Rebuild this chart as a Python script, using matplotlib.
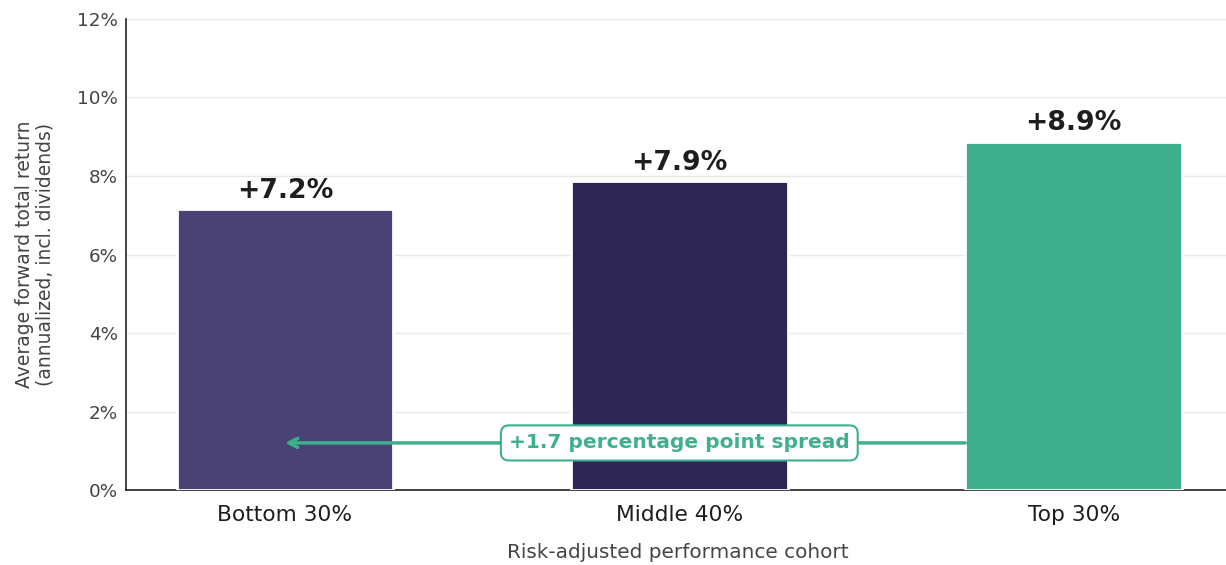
import numpy as np
import matplotlib
matplotlib.use("Agg")
import matplotlib.pyplot as plt
from matplotlib.ticker import FuncFormatter

plt.rcParams["font.family"] = ["DejaVu Sans"]

# cohorts and their average forward total return (%)
cohorts = ["Bottom 30%", "Middle 40%", "Top 30%"]
returns = [7.15, 7.87, 8.87]
bar_colors = ["#4a4175", "#2d2554", "#3eb08e"]
spread_label = "+1.7 percentage point spread"
spread_y = 1.2

fig = plt.figure(figsize=(12.26, 5.65), dpi=100)
ax = fig.add_axes([0.1028, 0.1327, 0.9, 0.8337])

x = np.arange(len(cohorts))
bars = ax.bar(x, returns, width=0.55, color=bar_colors, edgecolor="white",
              linewidth=2, zorder=3)

# value labels above bars
for xi, v in zip(x, returns):
    ax.text(xi, v + 0.14, f"+{v:.1f}%", ha="center", va="bottom",
            fontsize=19.2, fontweight="bold", color="#1e1e1e", zorder=5)

# spread arrow from top cohort back to bottom cohort
ax.annotate("", xy=(0.0, spread_y), xytext=(1.725, spread_y),
            arrowprops=dict(arrowstyle="->", color="#3eb08e", lw=2.5,
                            mutation_scale=16, shrinkA=0, shrinkB=0),
            zorder=4)
ax.text(1.0, spread_y, spread_label, ha="center", va="center",
        fontsize=14.5, fontweight="bold", color="#3eb08e", zorder=6,
        bbox=dict(boxstyle="round,pad=0.4", fc="white", ec="#3eb08e", lw=1.5))

ax.set_xlim(-0.403, 2.395)
ax.set_ylim(0, 12)
ax.set_yticks(np.arange(0, 13, 2))
ax.yaxis.set_major_formatter(FuncFormatter(lambda v, p: f"{v:.0f}%"))
ax.set_xticks(x)
ax.set_xticklabels(cohorts, fontsize=15.7, color="#1e1e1e")
ax.tick_params(axis="y", labelsize=13.2, labelcolor="#444444", length=0, pad=6)
ax.tick_params(axis="x", length=0, pad=11)

ax.grid(axis="y", color="#e8e8e8", linewidth=1, zorder=0)
ax.set_axisbelow(True)
for s in ["top", "right"]:
    ax.spines[s].set_visible(False)
for s in ["left", "bottom"]:
    ax.spines[s].set_color("#222222")
    ax.spines[s].set_linewidth(1.2)

ax.set_ylabel("Average forward total return\n(annualized, incl. dividends)",
              fontsize=13.5, color="#444444", labelpad=16, linespacing=1.1)
ax.set_xlabel("Risk-adjusted performance cohort", fontsize=14.4,
              color="#444444", labelpad=13)

fig.savefig("out.png", dpi=100)
